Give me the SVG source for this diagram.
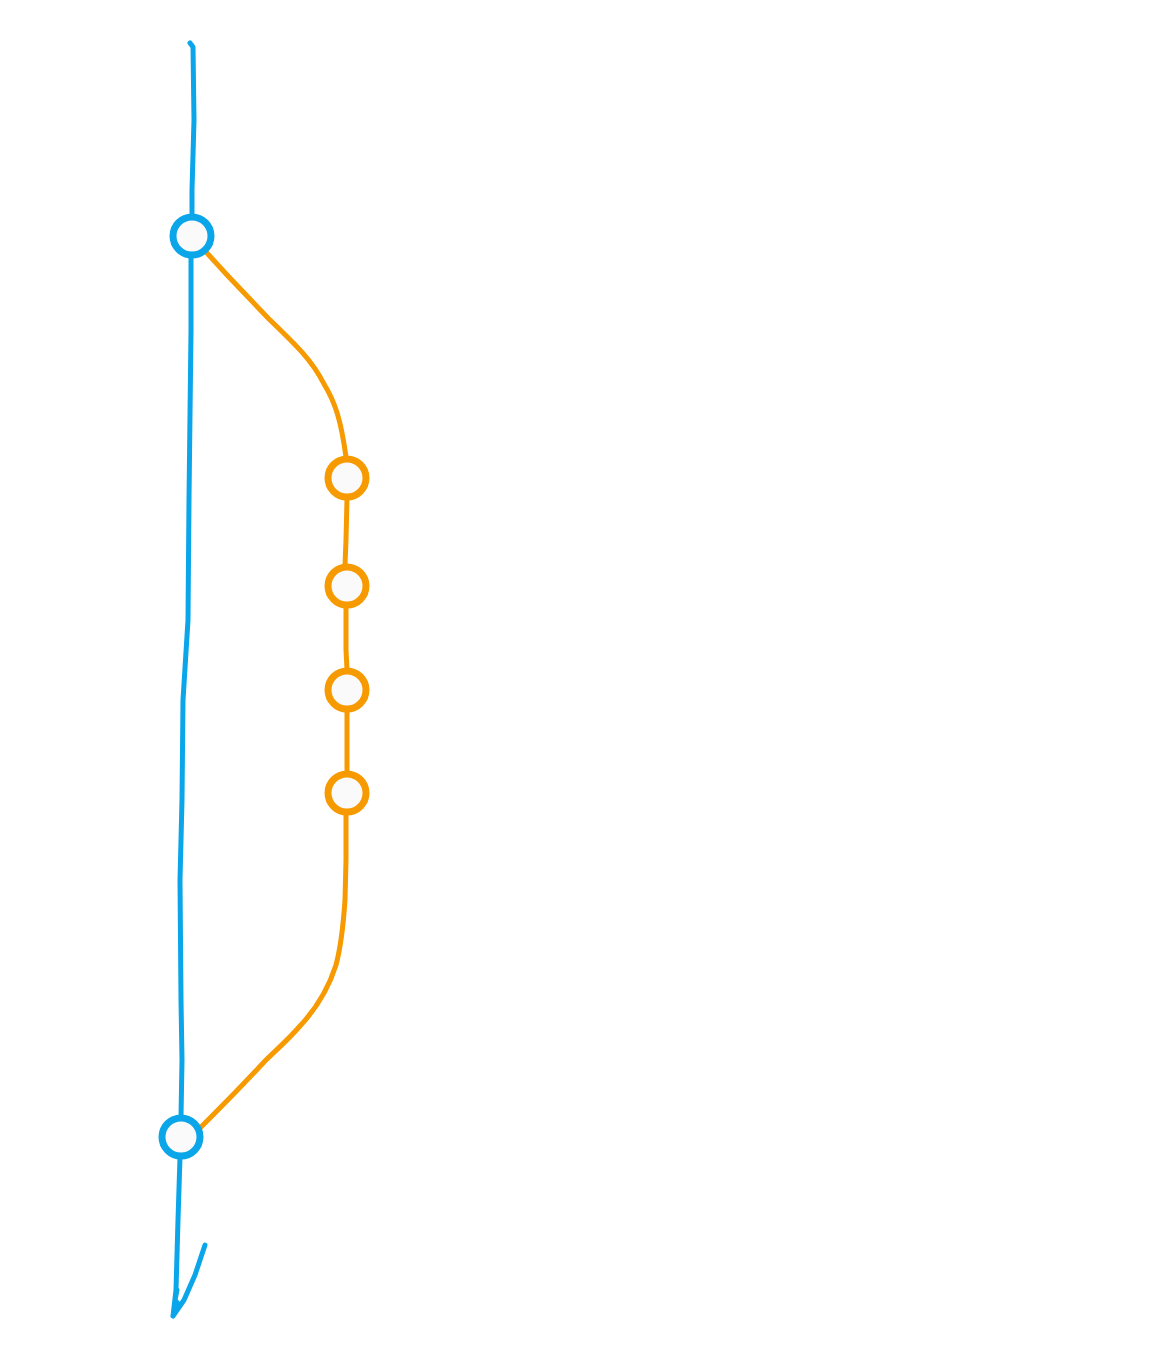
<svg xmlns="http://www.w3.org/2000/svg" width="1173" height="1350" viewBox="0 0 1173 1350">
<style>
.b{fill:none;stroke:#0aa6e9;stroke-width:5;stroke-linecap:round;stroke-linejoin:round}
.o{fill:none;stroke:#f79a00;stroke-width:5;stroke-linecap:round;stroke-linejoin:round}
.nb{fill:#fafafa;stroke:#0aa6e9;stroke-width:7}
.no{fill:#fafafa;stroke:#f79a00;stroke-width:7}
</style>
<rect width="1173" height="1350" fill="#ffffff"/>
<g id="connectors">
<path class="b" d="M190,43 L193,47 L194,120 L192,190 L192,217"/>
<path class="b" d="M191,256 L191,330 L189,500 L188,620 L183,700 L182,800 L180,880 L181,1000 L182,1060 L181,1117"/>
<path class="b" d="M180,1157 L178,1220 L176,1290 L173,1316 M177,1290 L175,1300 L180,1306 M205,1245 L195,1275 L184,1300 L173,1316"/>
<path class="o" d="M207,253 L228,276 L268,318 C295,344 312,360 324,384 C335,402 341,420 346,457"/>
<path class="o" d="M347,499 L346,540 L345,565"/>
<path class="o" d="M346,607 L346,650 L347,669"/>
<path class="o" d="M347,711 L347,772"/>
<path class="o" d="M346,814 L346,860 L345,900 C343,930 340,950 336,965 C328,990 315,1010 300,1026 C288,1040 276,1050 265,1061 C240,1088 220,1108 212,1116 L200,1128"/>
</g>
<g id="n1"><circle class="nb" cx="192" cy="236" r="19"/></g>
<g id="n2"><circle class="no" cx="347" cy="478" r="19"/></g>
<g id="n3"><circle class="no" cx="347" cy="586" r="19"/></g>
<g id="n4"><circle class="no" cx="347" cy="690" r="19"/></g>
<g id="n5"><circle class="no" cx="347" cy="793" r="19"/></g>
<g id="n6"><circle class="nb" cx="181" cy="1137" r="19"/></g>
</svg>
